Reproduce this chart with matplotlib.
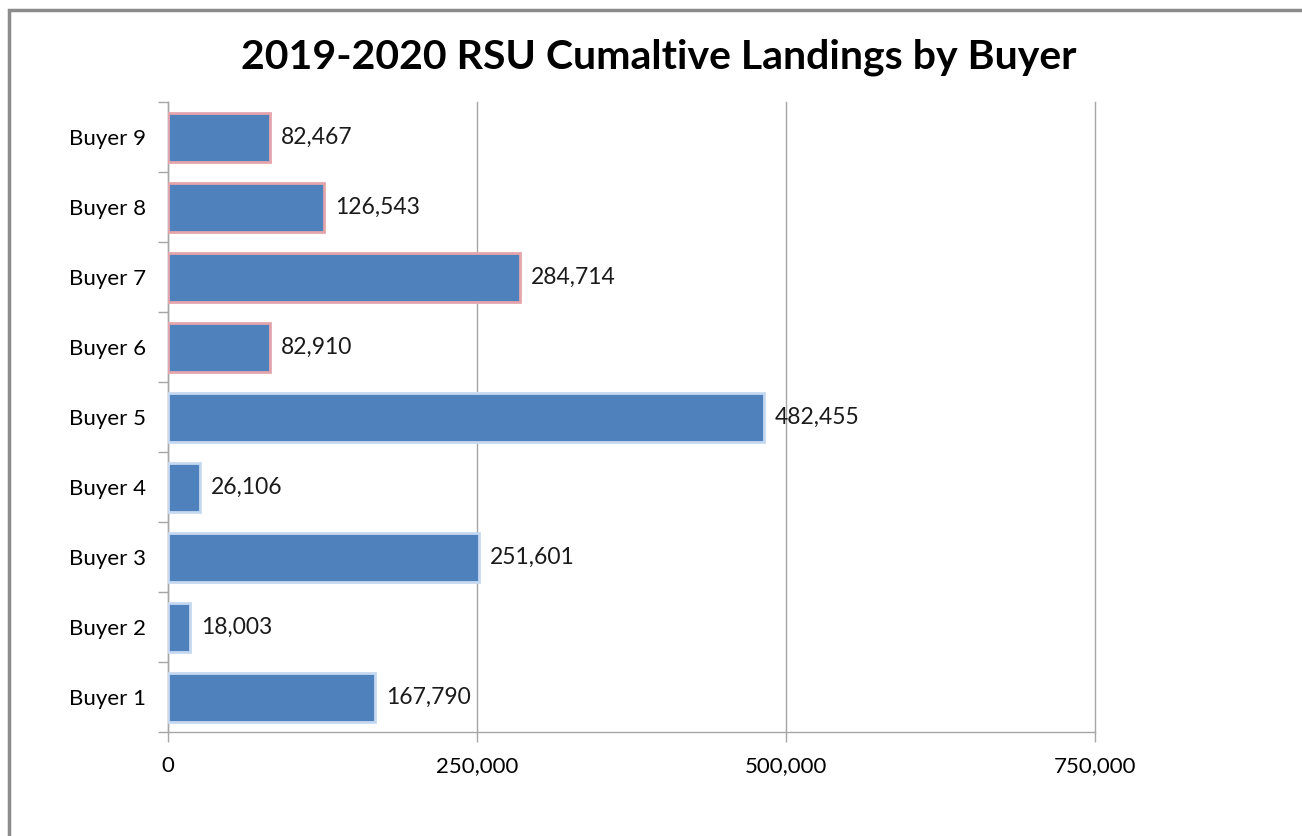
import matplotlib.pyplot as plt
from matplotlib.patches import Rectangle
from matplotlib.ticker import FuncFormatter, FixedLocator

plt.rcParams['font.family'] = ['Lato', 'DejaVu Sans']

buyers = ["Buyer 1", "Buyer 2", "Buyer 3", "Buyer 4", "Buyer 5",
          "Buyer 6", "Buyer 7", "Buyer 8", "Buyer 9"]
landings = [167790, 18003, 251601, 26106, 482455, 82910, 284714, 126543, 82467]
x_ticks = [0, 250000, 500000, 750000]

BAR_COLOR = '#4F81BD'
GRID_COLOR = '#A6A6A6'
edge_colors = ['#C6D9F1'] * 5 + ['#E6A5AC'] * 4

fig = plt.figure(figsize=(13.02, 8.36), dpi=100)
ax = fig.add_axes([168 / 1302, 1 - 732 / 836, (1095 - 168) / 1302, (732 - 102) / 836])

y_pos = list(range(len(buyers)))
bars = ax.barh(y_pos, landings, height=0.7, color=BAR_COLOR,
               edgecolor=edge_colors, linewidth=2, zorder=3)

for bar, value in zip(bars, landings):
    ax.text(bar.get_width() + 8500, bar.get_y() + bar.get_height() / 2,
            f"{value:,}", va='center', ha='left', fontsize=16.5, color='#1a1a1a')

ax.set_xlim(0, 750000)
ax.set_ylim(-0.5, len(buyers) - 0.5)
ax.xaxis.set_major_locator(FixedLocator(x_ticks))
ax.xaxis.set_major_formatter(FuncFormatter(lambda v, _: f"{int(v):,}"))
ax.grid(axis='x', color=GRID_COLOR, linewidth=1, zorder=0)
for gl in ax.get_xgridlines():
    gl.set_clip_on(False)

ax.set_yticks(y_pos)
ax.set_yticklabels(buyers)
ax.set_yticks([i - 0.5 for i in range(len(buyers) + 1)], minor=True)
ax.tick_params(axis='y', which='major', length=0, pad=16, labelsize=16)
ax.tick_params(axis='y', which='minor', length=7, color=GRID_COLOR, width=1)
ax.tick_params(axis='x', which='major', length=7, color=GRID_COLOR, width=1,
               pad=10, labelsize=16)

for side in ['top', 'right']:
    ax.spines[side].set_visible(False)
for side in ['left', 'bottom']:
    ax.spines[side].set_color(GRID_COLOR)
    ax.spines[side].set_linewidth(1)

fig.suptitle("2019-2020 RSU Cumaltive Landings by Buyer", x=659 / 1302, y=1 - 57 / 836,
             va='center', fontsize=29.5, fontweight='bold')

# outer frame around the chart area
fig.patches.append(Rectangle((9 / 1302, -0.1), 1.2, 1 - 10 / 836 + 0.1,
                             transform=fig.transFigure, fill=False,
                             edgecolor='#8C8C8C', linewidth=2.5))

fig.savefig('out.png', dpi=100)
